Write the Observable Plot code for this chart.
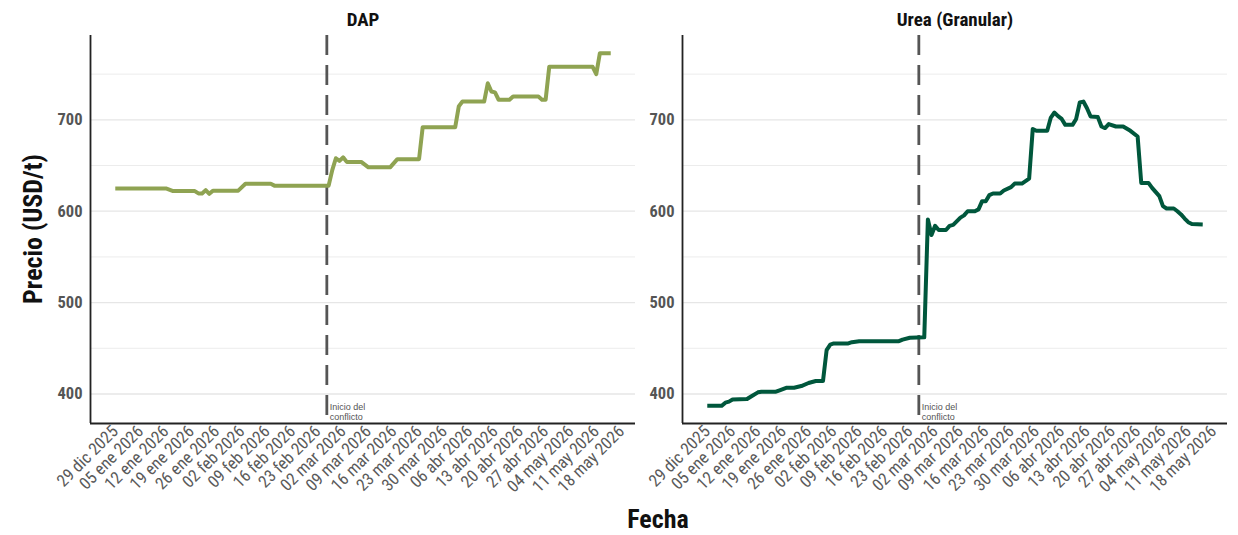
<!DOCTYPE html>
<html><head><meta charset="utf-8">
<script src="https://cdn.jsdelivr.net/npm/d3@7"></script>
<script src="https://cdn.jsdelivr.net/npm/@observablehq/plot@0.6"></script>
<style>
html,body{margin:0;padding:0;background:#fff;}
#chart{width:1238px;height:535px;}
</style></head><body><div id="chart"></div>
<script>
const products = ["DAP", "Urea (Granular)"];
const seriesColors = ["#8fa352", "#00573c"];

const dapDates = ["2025-12-29","2026-01-12","2026-01-14","2026-01-20","2026-01-21","2026-01-22","2026-01-23","2026-01-24","2026-01-25","2026-02-01","2026-02-03","2026-02-10","2026-02-11","2026-02-26","2026-02-27","2026-02-28","2026-03-01","2026-03-02","2026-03-03","2026-03-07","2026-03-09","2026-03-15","2026-03-17","2026-03-23","2026-03-24","2026-04-02","2026-04-03","2026-04-04","2026-04-10","2026-04-11","2026-04-12","2026-04-13","2026-04-14","2026-04-17","2026-04-18","2026-04-25","2026-04-26","2026-04-27","2026-04-28","2026-05-10","2026-05-11","2026-05-12","2026-05-15"];
const dapValues = [625,625,622,622,619.5,619.5,623,619,622.5,622.5,630,630,628,628,645,658,655,659,654,654,648,648,657,657,692,692,715,720,720,740,731,730,722,722,725.5,725.5,722,722,758,758,750,773,773];

const ureaDates = ["2025-12-29","2026-01-02","2026-01-03","2026-01-04","2026-01-05","2026-01-09","2026-01-10","2026-01-12","2026-01-13","2026-01-17","2026-01-18","2026-01-20","2026-01-22","2026-01-24","2026-01-26","2026-01-28","2026-01-30","2026-01-31","2026-02-01","2026-02-02","2026-02-06","2026-02-07","2026-02-09","2026-02-20","2026-02-21","2026-02-23","2026-02-27","2026-02-28","2026-03-01","2026-03-02","2026-03-03","2026-03-05","2026-03-06","2026-03-07","2026-03-09","2026-03-10","2026-03-11","2026-03-13","2026-03-14","2026-03-15","2026-03-16","2026-03-17","2026-03-18","2026-03-20","2026-03-21","2026-03-23","2026-03-24","2026-03-26","2026-03-28","2026-03-29","2026-03-30","2026-04-02","2026-04-03","2026-04-04","2026-04-05","2026-04-06","2026-04-07","2026-04-09","2026-04-10","2026-04-11","2026-04-12","2026-04-13","2026-04-14","2026-04-16","2026-04-17","2026-04-18","2026-04-19","2026-04-21","2026-04-23","2026-04-25","2026-04-27","2026-04-28","2026-04-30","2026-05-01","2026-05-03","2026-05-04","2026-05-05","2026-05-07","2026-05-08","2026-05-09","2026-05-10","2026-05-11","2026-05-12","2026-05-15"];
const ureaValues = [387,387,390.5,391.6,394,394.5,397,401.8,402.5,402.5,404,406.9,406.9,408.7,412,414.2,414.2,448,454,455.3,455.3,456.7,457.8,457.8,459.5,461.5,462,591,574,584,579.5,579.5,584,585,593,595.5,600,600,602,611,611,617.6,619.4,619.4,622.7,626.3,630.3,630.3,635.7,690,688,688,702.5,708,704,701,694.5,694.5,701,719,720,712.7,703.6,703,692.7,691,695.3,692.7,692.7,688,681.8,631,631,625.6,616.5,605.6,603,603,600,596.5,592,588,586,585.6];

const conflictDate = "2026-02-25T12:00:00Z";
const conflictLabel = "Inicio del\nconflicto";

const xTickDates = ["2025-12-29","2026-01-05","2026-01-12","2026-01-19","2026-01-26","2026-02-02","2026-02-09","2026-02-16","2026-02-23","2026-03-02","2026-03-09","2026-03-16","2026-03-23","2026-03-30","2026-04-06","2026-04-13","2026-04-20","2026-04-27","2026-05-04","2026-05-11","2026-05-18"];
const xTickLabels = ["29 dic 2025","05 ene 2026","12 ene 2026","19 ene 2026","26 ene 2026","02 feb 2026","09 feb 2026","16 feb 2026","23 feb 2026","02 mar 2026","09 mar 2026","16 mar 2026","23 mar 2026","30 mar 2026","06 abr 2026","13 abr 2026","20 abr 2026","27 abr 2026","04 may 2026","11 may 2026","18 may 2026"];
const yTicks = [400, 500, 600, 700];
const yMinorTicks = [450, 550, 650, 750];
const xTitle = "Fecha";
const yTitle = "Precio (USD/t)";

const rows = [
  ...dapDates.map((d, i) => ({producto: products[0], fecha: new Date(d), precio: dapValues[i]})),
  ...ureaDates.map((d, i) => ({producto: products[1], fecha: new Date(d), precio: ureaValues[i]}))
];
const xe = d3.extent(rows, d => d.fecha);
const xs = xe[1] - xe[0];
const xDomain = [new Date(+xe[0] - 0.05 * xs), new Date(+xe[1] + 0.05 * xs)];
const ye = d3.extent(rows, d => d.precio);
const ys = ye[1] - ye[0];
const yDomain = [ye[0] - 0.05 * ys, ye[1] + 0.05 * ys];
const tickLabelMap = new Map(xTickDates.map((d, i) => [+new Date(d), xTickLabels[i]]));

const FONT = "'Roboto Condensed','DejaVu Sans Condensed','Liberation Sans Narrow','Arial Narrow',Roboto,sans-serif";

const chart = Plot.plot({
  width: 1238, height: 535,
  marginTop: 35, marginLeft: 90, marginRight: 11, marginBottom: 112,
  style: {fontFamily: FONT, background: "white", overflow: "visible"},
  fx: {domain: products, paddingInner: 0.08, paddingOuter: 0, label: null},
  x: {domain: xDomain, type: "utc"},
  y: {domain: yDomain},
  color: {domain: products, range: seriesColors},
  marks: [
    Plot.gridY(yMinorTicks, {stroke: "#ececec", strokeOpacity: 1, strokeWidth: 1}),
    Plot.gridY(yTicks, {stroke: "#e6e6e6", strokeOpacity: 1, strokeWidth: 1.3}),
    Plot.ruleX([conflictDate], {x: d => new Date(d), stroke: "#555", strokeWidth: 2.8, strokeDasharray: "20,10"}),
    Plot.text([conflictLabel], {x: () => new Date(conflictDate), text: d => d, frameAnchor: "bottom", textAnchor: "start", lineAnchor: "bottom", dx: 3, dy: -4, fontSize: 9, fill: "#555", fontFamily: "'Liberation Sans',Arial,sans-serif", lineHeight: 1.05}),
    Plot.lineY(rows, {fx: "producto", x: "fecha", y: "precio", stroke: "producto", strokeWidth: 4, strokeLinejoin: "round", strokeLinecap: "butt"}),
    Plot.ruleX([xDomain[0]], {stroke: "#222", strokeWidth: 1.8}),
    Plot.ruleY([yDomain[0]], {stroke: "#222", strokeWidth: 1.8}),
    Plot.axisX(xTickDates.map(d => new Date(d)), {tickRotate: -45, tickSize: 0, tickPadding: 5, tickFormat: d => tickLabelMap.get(+d), fontSize: 17, fill: "#5a5a5a", label: null}),
    Plot.axisY(yTicks, {tickSize: 0, tickPadding: 8, fontSize: 16.5, fontWeight: "bold", fill: "#555", label: null, facetAnchor: null}),
    Plot.axisFx({anchor: "top", label: null, tickSize: 0, tickPadding: 10, fontSize: 19, fontWeight: "bold", fill: "#111"})
  ]
});
document.getElementById("chart").appendChild(chart);

const svg = d3.select(chart);
svg.append("text")
  .attr("x", 658).attr("y", 528)
  .attr("text-anchor", "middle")
  .attr("font-family", FONT).attr("font-weight", "bold").attr("font-size", 26).attr("fill", "#111")
  .text(xTitle);
svg.append("text")
  .attr("transform", "translate(33,229) rotate(-90)")
  .attr("text-anchor", "middle").attr("dominant-baseline", "central")
  .attr("font-family", FONT).attr("font-weight", "bold").attr("font-size", 26).attr("fill", "#111")
  .text(yTitle);
</script></body></html>
